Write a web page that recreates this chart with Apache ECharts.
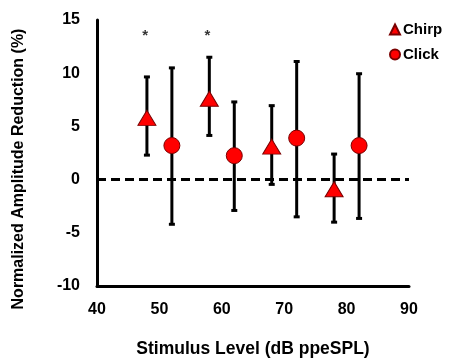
<!DOCTYPE html>
<html>
<head>
<meta charset="utf-8">
<script src="https://cdn.jsdelivr.net/npm/echarts@6/dist/echarts.min.js"></script>
<style>html,body{margin:0;padding:0;background:#fff}#c{width:454px;height:360px}</style>
</head>
<body>
<div id="c"></div>
<script>
var chirpX = [48, 58, 68, 78];
var chirpMean = [5.8, 7.6, 3.1, -0.9];
var chirpHigh = [9.65, 11.5, 6.95, 2.4];
var chirpLow = [2.3, 4.15, -0.45, -4.0];

var clickX = [52, 62, 72, 82];
var clickMean = [3.2, 2.25, 3.9, 3.2];
var clickHigh = [10.5, 7.3, 11.1, 9.95];
var clickLow = [-4.2, -2.9, -3.5, -3.65];

var sigX = [47.7, 57.7];
var sigY = [13.8, 13.8];

var xTicks = [40, 50, 60, 70, 80, 90];
var yTicks = [-10, -5, 0, 5, 10, 15];

var FONT = 'Liberation Sans, Arial, sans-serif';

function zip(xs, ys) { return xs.map(function (x, i) { return [x, ys[i]]; }); }
function errData(xs, lo, hi) { return xs.map(function (x, i) { return [x, lo[i], hi[i]]; }); }

function renderErr(params, api) {
  var x = api.value(0);
  var lo = api.coord([x, api.value(1)]);
  var hi = api.coord([x, api.value(2)]);
  var cap = 3;
  var st = { stroke: '#000', lineWidth: 3 };
  return {
    type: 'group',
    children: [
      { type: 'line', shape: { x1: lo[0], y1: lo[1], x2: hi[0], y2: hi[1] }, style: st },
      { type: 'line', shape: { x1: hi[0] - cap, y1: hi[1], x2: hi[0] + cap, y2: hi[1] }, style: st },
      { type: 'line', shape: { x1: lo[0] - cap, y1: lo[1], x2: lo[0] + cap, y2: lo[1] }, style: st }
    ]
  };
}

var chart = echarts.init(document.getElementById('c'), null, { renderer: 'canvas' });
chart.setOption({
  animation: false,
  backgroundColor: '#fff',
  textStyle: { fontFamily: FONT },
  grid: { left: 97, right: 45, top: 20, bottom: 74, containLabel: false, outerBoundsMode: 'none' },
  legend: {
    orient: 'vertical',
    left: 384,
    top: 17,
    itemWidth: 10,
    itemHeight: 10,
    itemGap: 10,
    data: [
      { name: 'Chirp', icon: 'triangle' },
      { name: 'Click', icon: 'circle' }
    ],
    textStyle: { fontSize: 15, fontWeight: 'bold', color: '#000', fontFamily: FONT, padding: [0, 0, 0, -2] }
  },
  xAxis: {
    type: 'value', min: 40, max: 90, interval: 10,
    name: 'Stimulus Level (dB ppeSPL)', nameLocation: 'middle', nameGap: 54,
    nameTextStyle: { fontSize: 17.5, fontWeight: 'bold', color: '#000', fontFamily: FONT },
    axisLine: { show: true, onZero: false, lineStyle: { color: '#000', width: 3 } },
    axisTick: { show: false },
    splitLine: { show: false },
    axisLabel: { fontSize: 16, fontWeight: 'bold', color: '#000', margin: 16, fontFamily: FONT,
      formatter: function (v) { return xTicks.indexOf(v) >= 0 ? String(v) : ''; } }
  },
  yAxis: {
    type: 'value', min: -10, max: 15, interval: 5,
    name: 'Normalized Amplitude Reduction (%)', nameLocation: 'middle', nameGap: 70,
    nameTextStyle: { fontSize: 16, fontWeight: 'bold', color: '#000', fontFamily: FONT, padding: [0, 32, 0, 0] },
    axisLine: { show: true, onZero: false, lineStyle: { color: '#000', width: 3 } },
    axisTick: { show: false },
    splitLine: { show: false },
    axisLabel: { fontSize: 16, fontWeight: 'bold', color: '#000', margin: 17, fontFamily: FONT,
      padding: [14, 0, 0, 0],
      formatter: function (v) { return yTicks.indexOf(v) >= 0 ? String(v) : ''; } }
  },
  series: [
    {
      name: 'zero', type: 'line', data: [], silent: true, z: 1,
      markLine: {
        silent: true, symbol: ['none', 'none'], label: { show: false },
        lineStyle: { color: '#000', width: 3, type: [9, 5] },
        data: [{ yAxis: 0 }]
      }
    },
    { name: 'chirpErr', type: 'custom', renderItem: renderErr, data: errData(chirpX, chirpLow, chirpHigh), z: 2, silent: true },
    { name: 'clickErr', type: 'custom', renderItem: renderErr, data: errData(clickX, clickLow, clickHigh), z: 2, silent: true },
    {
      name: 'Chirp', type: 'scatter', symbol: 'triangle', symbolSize: [18, 15],
      data: zip(chirpX, chirpMean), z: 3,
      itemStyle: { color: '#ff0000', borderColor: '#7a0000', borderWidth: 1, opacity: 1 }
    },
    {
      name: 'Click', type: 'scatter', symbol: 'circle', symbolSize: 16,
      data: zip(clickX, clickMean), z: 3,
      itemStyle: { color: '#ff0000', borderColor: '#7a0000', borderWidth: 1, opacity: 1 }
    },
    {
      name: 'sig', type: 'scatter', symbolSize: 0, data: zip(sigX, sigY), silent: true,
      label: { show: true, position: 'inside', formatter: '*', fontSize: 15, fontWeight: 'bold', color: '#000', fontFamily: FONT, offset: [0, 3] }
    }
  ]
});
</script>
</body>
</html>
